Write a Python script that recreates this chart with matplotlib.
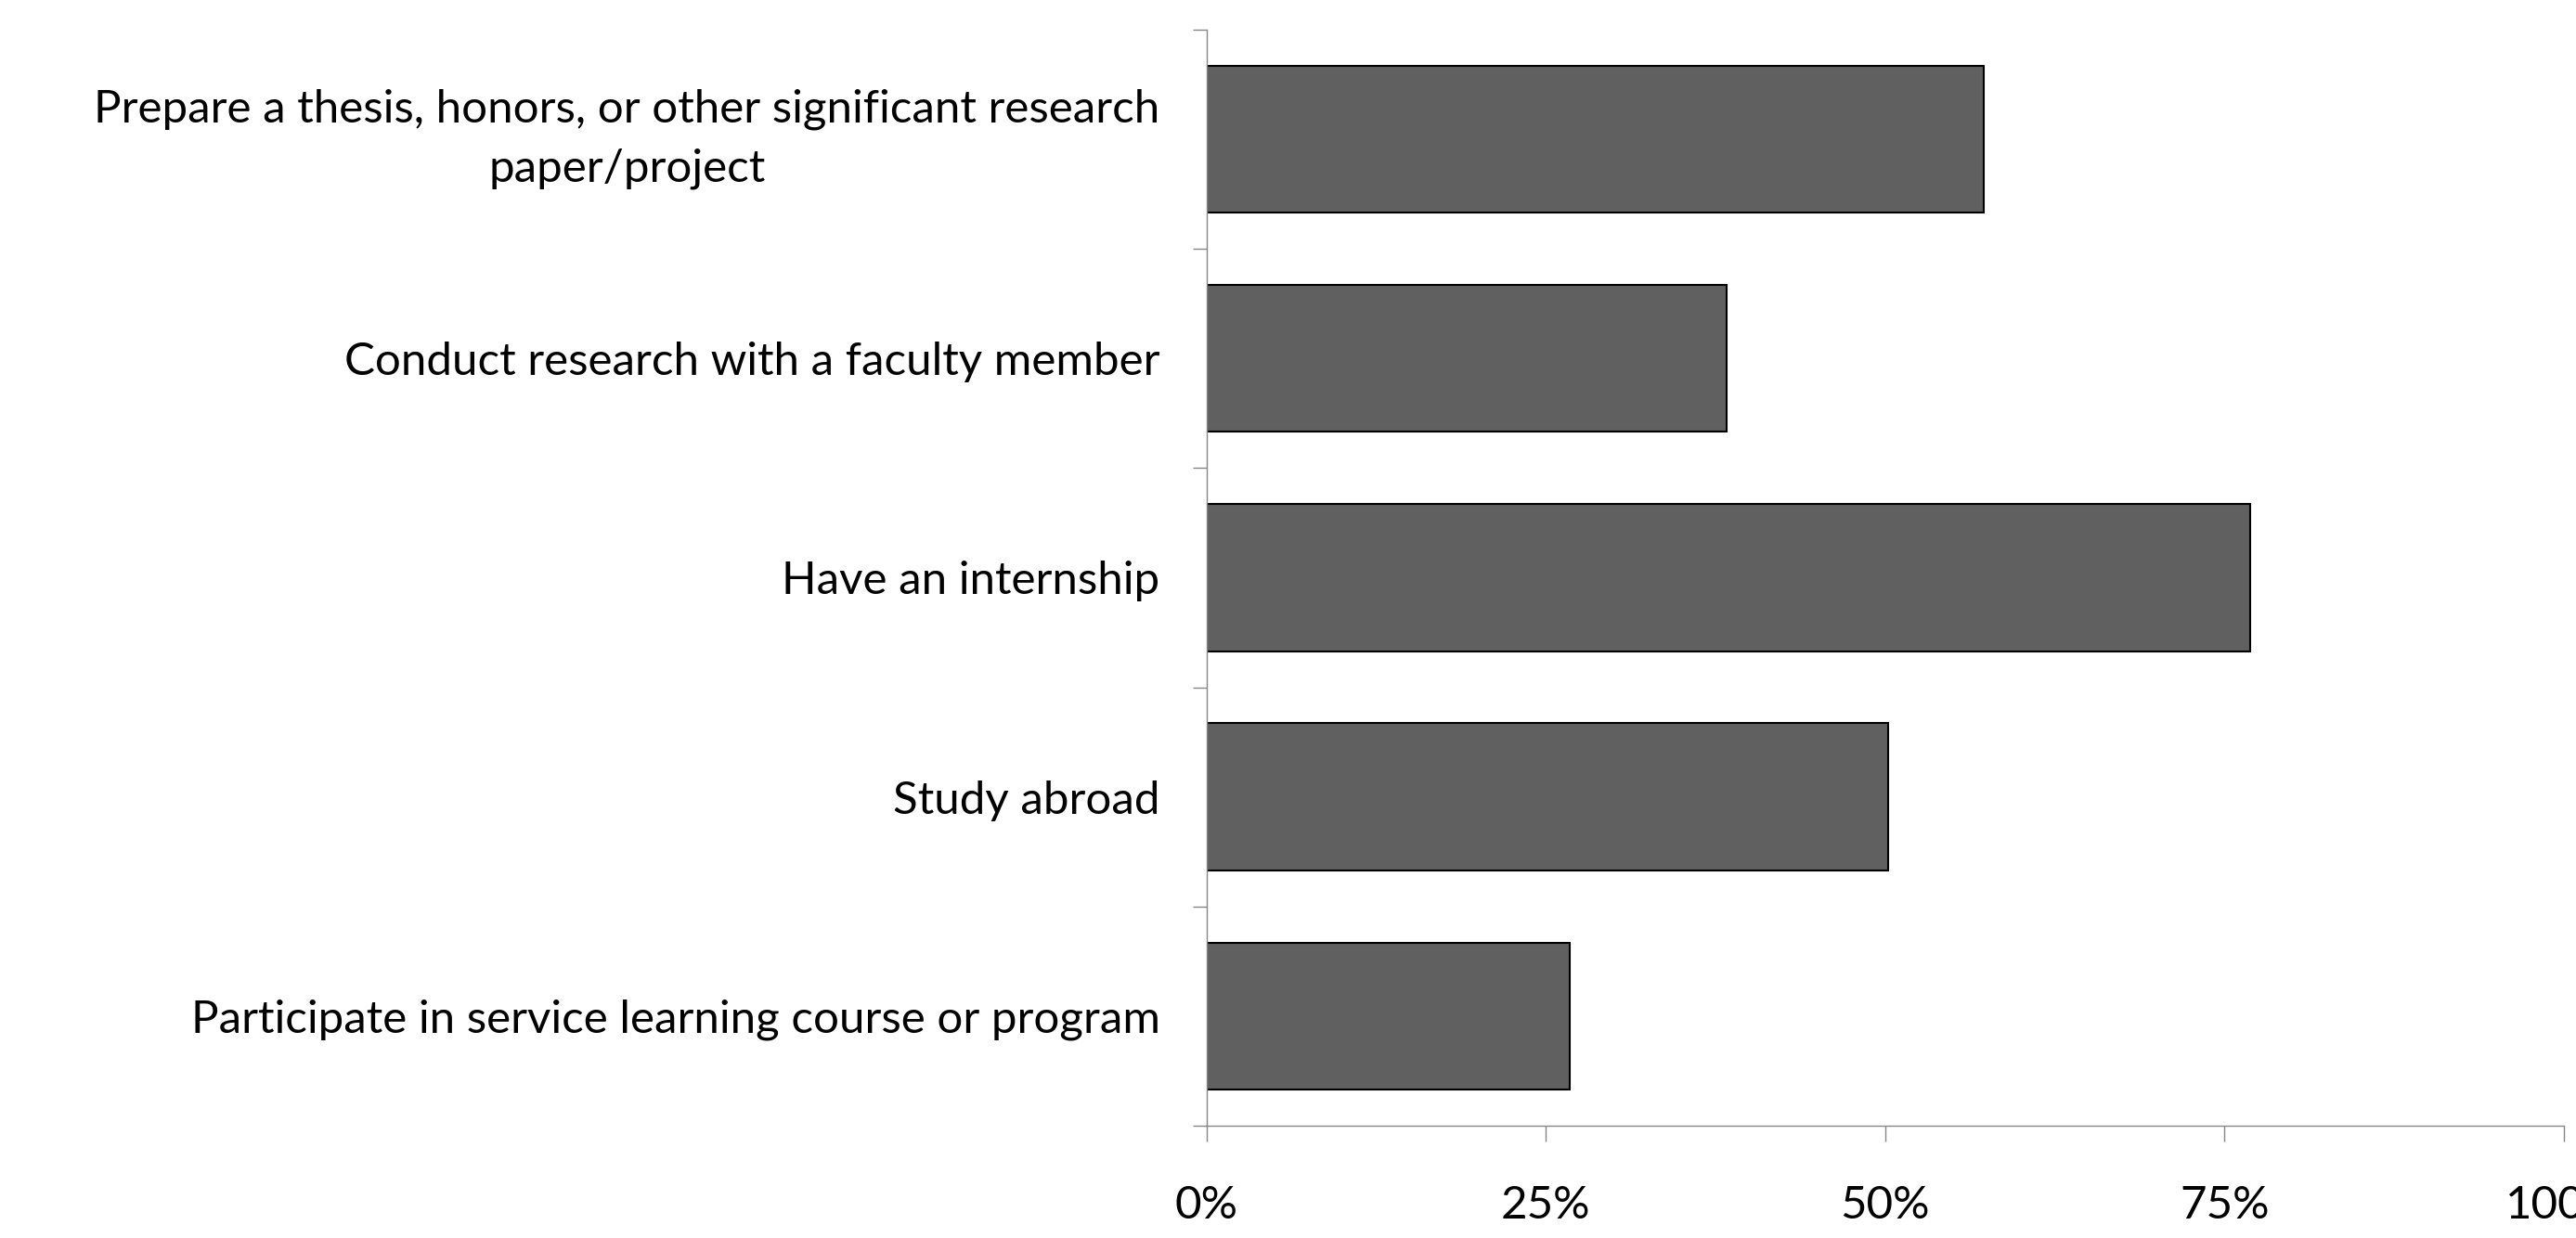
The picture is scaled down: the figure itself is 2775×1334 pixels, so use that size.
import numpy as np
import matplotlib
matplotlib.use("Agg")
import matplotlib.pyplot as plt
from matplotlib.ticker import FixedLocator, PercentFormatter

plt.rcParams['font.family'] = ['Lato', 'DejaVu Sans']

# data (share of students)
categories = [
    "Prepare a thesis, honors, or other significant research\npaper/project",
    "Conduct research with a faculty member",
    "Have an internship",
    "Study abroad",
    "Participate in service learning course or program",
]
values = [0.573, 0.383, 0.769, 0.502, 0.268]
x_ticks = [0, 0.25, 0.5, 0.75, 1.0]

fig = plt.figure(figsize=(27.75, 13.34), dpi=100)
ax = fig.add_axes([0.4683, 0.0907, 0.5269, 0.8855])

y = np.arange(len(categories))
ax.barh(y, values, height=0.67, color='#606060', edgecolor='black', linewidth=1.5)

ax.set_xlim(0, 1.0)
ax.set_ylim(len(categories) - 0.5, -0.5)

ax.set_yticks(y)
ax.set_yticklabels(categories, fontsize=35.5)
for lab in ax.get_yticklabels():
    lab.set_multialignment('center')
    lab.set_linespacing(1.55)
    if '\n' in lab.get_text():
        lab.set_verticalalignment('center')
ax.yaxis.set_minor_locator(FixedLocator(np.arange(-0.5, len(categories), 1.0)))
ax.tick_params(axis='y', which='major', length=0, pad=36)
ax.tick_params(axis='y', which='minor', length=11, width=1, color='#868686', direction='out')

ax.set_xticks(x_ticks)
ax.xaxis.set_major_formatter(PercentFormatter(1.0, decimals=0))
ax.tick_params(axis='x', length=12, width=1, color='#868686', direction='out', labelsize=35.5, pad=34)

for s in ['top', 'right']:
    ax.spines[s].set_visible(False)
for s in ['left', 'bottom']:
    ax.spines[s].set_color('#868686')
    ax.spines[s].set_linewidth(1)

fig.savefig('out.png', dpi=100)
